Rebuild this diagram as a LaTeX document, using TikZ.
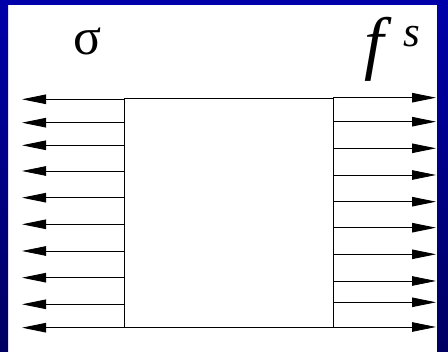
\documentclass[tikz,border=0pt]{standalone}
\usepackage{fontspec}
\setmainfont{Liberation Serif}
\usetikzlibrary{arrows.meta}
\definecolor{slideBlue}{HTML}{0000AA}
\definecolor{slideNavy}{HTML}{000062}
\begin{document}
\begin{tikzpicture}[x=1pt, y=-1pt,
    wire/.style={line width=0.8pt, -{Triangle[length=24pt, width=9.5pt]}},
    every node/.style={inner sep=0pt}]
  \useasboundingbox (0,0) rectangle (448,352);
  % slide background
  \fill[white] (0,0) rectangle (448,352);
  \fill[slideBlue] (0,0) rectangle (448,5);
  \shade[top color=slideBlue, bottom color=slideNavy] (0,0) rectangle (8,352);
  \shade[top color=slideBlue, bottom color=slideNavy] (437,0) rectangle (448,352);
  % the box
  \node[draw, line width=0.8pt, minimum width=209pt, minimum height=229pt] (box) at (228.5,213) {};
  % outputs on the left
  \foreach \y [count=\i] in {99.3,122.7,145.3,171,197.7,224.3,251,277.7,304.3,327.7} {
    \coordinate (in\i) at (22,\y);
    \draw[wire] (box.west |- in\i) -- (in\i);
  }
  % outputs on the right
  \foreach \y [count=\i] in {97.7,121.7,148.3,175,201.7,227.7,254.3,281,302.3,327} {
    \coordinate (out\i) at (436,\y);
    \draw[wire] (box.east |- out\i) -- (out\i);
  }
  \node[anchor=base, font=\fontsize{52}{52}\selectfont] (sigma) at (88,55) {σ};
  \node[anchor=base west, font=\fontsize{70}{70}\selectfont\itshape] (fs) at (364,67)
    {f\hspace{20pt}\raisebox{20pt}{\fontsize{43}{43}\selectfont s}};
\end{tikzpicture}
\end{document}
